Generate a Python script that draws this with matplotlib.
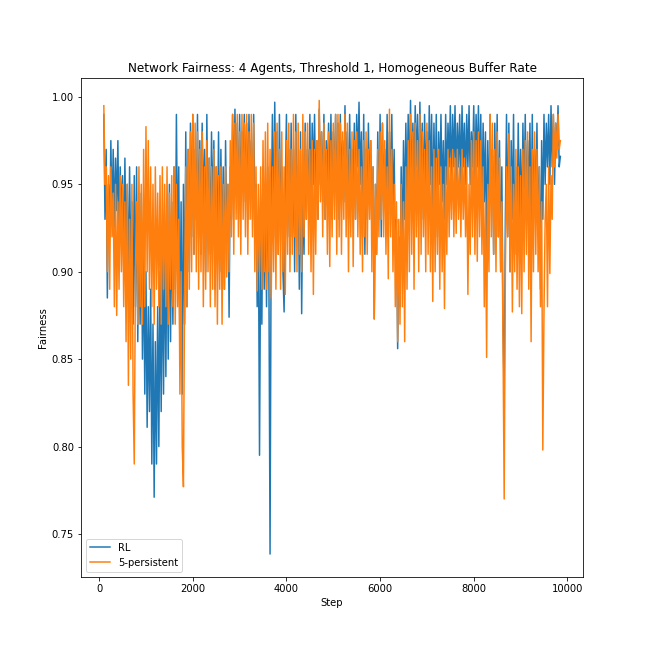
import numpy as np
import matplotlib
matplotlib.use("Agg")
import matplotlib.pyplot as plt

steps = np.arange(100, 9851, 25)

rl = [
    0.99, 0.93, 0.97, 0.885, 0.95, 0.92, 0.975, 0.93, 0.97, 0.925, 0.965, 0.935, 0.975, 0.92, 0.96, 0.93, 0.955, 0.90, 0.965, 0.91,
    0.95, 0.89, 0.96, 0.90, 0.94, 0.87, 0.955, 0.88, 0.96, 0.86, 0.93, 0.87, 0.945, 0.85, 0.91, 0.83, 0.90, 0.811, 0.88, 0.82,
    0.89, 0.79, 0.87, 0.771, 0.86, 0.79, 0.88, 0.80, 0.90, 0.82, 0.91, 0.83, 0.92, 0.84, 0.93, 0.85, 0.95, 0.86, 0.94, 0.87,
    0.96, 0.89, 0.99, 0.91, 0.96, 0.85, 0.94, 0.83, 0.95, 0.87, 0.98, 0.88, 0.97, 0.90, 0.985, 0.92, 0.99, 0.91, 0.97, 0.93,
    0.99, 0.92, 0.975, 0.91, 0.985, 0.93, 0.97, 0.90, 0.99, 0.92, 0.965, 0.91, 0.98, 0.93, 0.975, 0.89, 0.96, 0.91, 0.98, 0.90,
    0.97, 0.91, 0.96, 0.89, 0.975, 0.92, 0.95, 0.874, 0.96, 0.93, 0.99, 0.94, 0.993, 0.95, 0.985, 0.93, 0.99, 0.94, 0.98, 0.95,
    0.99, 0.94, 0.985, 0.93, 0.99, 0.95, 0.975, 0.93, 0.99, 0.94, 0.95, 0.88, 0.93, 0.795, 0.92, 0.87, 0.96, 0.89, 0.95, 0.88,
    0.96, 0.90, 0.7385, 0.93, 0.99, 0.92, 0.997, 0.94, 0.98, 0.91, 0.99, 0.93, 0.96, 0.90, 0.877, 0.95, 0.99, 0.92, 0.97, 0.91,
    0.985, 0.92, 0.97, 0.90, 0.99, 0.93, 0.96, 0.89, 0.98, 0.876, 0.95, 0.91, 0.985, 0.93, 0.97, 0.94, 0.99, 0.93, 0.985, 0.95,
    0.99, 0.94, 0.975, 0.93, 0.993, 0.95, 0.98, 0.94, 0.99, 0.93, 0.975, 0.95, 0.985, 0.94, 0.99, 0.93, 0.98, 0.95, 0.99, 0.94,
    0.985, 0.93, 0.99, 0.95, 0.975, 0.94, 0.995, 0.95, 0.98, 0.93, 0.99, 0.94, 0.97, 0.95, 0.985, 0.93, 0.99, 0.96, 0.997, 0.95,
    0.98, 0.92, 0.99, 0.91, 0.97, 0.93, 0.985, 0.94, 0.975, 0.92, 0.96, 0.873, 0.95, 0.91, 0.98, 0.93, 0.99, 0.92, 0.985, 0.94,
    0.97, 0.93, 0.99, 0.92, 0.98, 0.94, 0.99, 0.93, 0.97, 0.91, 0.93, 0.856, 0.92, 0.88, 0.96, 0.91, 0.975, 0.93, 0.985, 0.94,
    0.99, 0.95, 0.998, 0.94, 0.985, 0.95, 0.995, 0.96, 0.99, 0.94, 0.997, 0.95, 0.985, 0.93, 0.99, 0.95, 0.98, 0.94, 0.995, 0.95,
    0.99, 0.93, 0.985, 0.94, 0.99, 0.92, 0.98, 0.95, 0.99, 0.94, 0.975, 0.93, 0.99, 0.95, 0.985, 0.96, 0.995, 0.95, 0.99, 0.96,
    0.995, 0.95, 0.985, 0.96, 0.99, 0.95, 0.995, 0.96, 0.985, 0.95, 0.99, 0.96, 0.995, 0.95, 0.98, 0.96, 0.995, 0.95, 0.99, 0.96,
    0.995, 0.95, 0.99, 0.93, 0.985, 0.94, 0.98, 0.91, 0.975, 0.93, 0.99, 0.94, 0.97, 0.91, 0.985, 0.93, 0.99, 0.92, 0.975, 0.90,
    0.96, 0.87, 0.829, 0.93, 0.99, 0.92, 0.985, 0.90, 0.975, 0.93, 0.99, 0.91, 0.96, 0.92, 0.985, 0.93, 0.97, 0.92, 0.985, 0.94,
    0.99, 0.93, 0.975, 0.94, 0.985, 0.92, 0.99, 0.93, 0.97, 0.94, 0.985, 0.92, 0.96, 0.89, 0.975, 0.93, 0.99, 0.95, 0.985, 0.96,
    0.99, 0.95, 0.995, 0.96, 0.99, 0.95, 0.985, 0.97, 0.995, 0.96, 0.966,
]

persistent5 = [
    0.995, 0.95, 0.96, 0.90, 0.955, 0.89, 0.96, 0.92, 0.945, 0.88, 0.95, 0.875, 0.94, 0.89, 0.955, 0.90, 0.95, 0.88, 0.94, 0.86,
    0.95, 0.835, 0.93, 0.85, 0.95, 0.83, 0.79, 0.90, 0.94, 0.87, 0.96, 0.88, 0.95, 0.87, 0.97, 0.88, 0.983, 0.90, 0.975, 0.89,
    0.96, 0.88, 0.95, 0.87, 0.96, 0.89, 0.945, 0.88, 0.955, 0.87, 0.96, 0.89, 0.95, 0.88, 0.96, 0.87, 0.945, 0.89, 0.955, 0.88,
    0.96, 0.87, 0.95, 0.88, 0.93, 0.83, 0.90, 0.80, 0.777, 0.89, 0.96, 0.88, 0.97, 0.89, 0.98, 0.90, 0.99, 0.91, 0.985, 0.90,
    0.98, 0.89, 0.97, 0.90, 0.98, 0.88, 0.96, 0.89, 0.975, 0.90, 0.965, 0.88, 0.96, 0.89, 0.97, 0.88, 0.96, 0.87, 0.955, 0.89,
    0.96, 0.87, 0.95, 0.89, 0.96, 0.897, 0.95, 0.90, 0.975, 0.92, 0.99, 0.91, 0.985, 0.93, 0.99, 0.92, 0.98, 0.91, 0.99, 0.93,
    0.985, 0.92, 0.99, 0.91, 0.98, 0.93, 0.99, 0.92, 0.985, 0.90, 0.96, 0.889, 0.95, 0.90, 0.96, 0.89, 0.975, 0.90, 0.98, 0.89,
    0.985, 0.90, 0.97, 0.885, 0.96, 0.90, 0.98, 0.89, 0.985, 0.91, 0.97, 0.89, 0.98, 0.90, 0.96, 0.887, 0.975, 0.91, 0.985, 0.90,
    0.97, 0.91, 0.99, 0.92, 0.98, 0.90, 0.985, 0.91, 0.97, 0.90, 0.99, 0.92, 0.98, 0.93, 0.985, 0.91, 0.97, 0.90, 0.975, 0.887,
    0.97, 0.91, 0.975, 0.93, 0.998, 0.94, 0.98, 0.92, 0.985, 0.93, 0.97, 0.91, 0.98, 0.903, 0.975, 0.92, 0.985, 0.93, 0.99, 0.91,
    0.99, 0.92, 0.985, 0.91, 0.98, 0.93, 0.99, 0.92, 0.985, 0.90, 0.97, 0.92, 0.98, 0.903, 0.975, 0.93, 0.98, 0.92, 0.97, 0.91,
    0.96, 0.90, 0.975, 0.92, 0.98, 0.91, 0.97, 0.93, 0.975, 0.90, 0.96, 0.873, 0.95, 0.91, 0.97, 0.92, 0.98, 0.93, 0.985, 0.92,
    0.975, 0.91, 0.96, 0.896, 0.993, 0.92, 0.97, 0.90, 0.95, 0.88, 0.94, 0.86, 0.93, 0.87, 0.95, 0.88, 0.94, 0.86, 0.96, 0.89,
    0.975, 0.90, 0.99, 0.91, 0.98, 0.89, 0.985, 0.92, 0.975, 0.90, 0.99, 0.91, 0.98, 0.92, 0.97, 0.90, 0.985, 0.91, 0.975, 0.90,
    0.96, 0.883, 0.97, 0.90, 0.965, 0.91, 0.97, 0.89, 0.96, 0.90, 0.95, 0.879, 0.96, 0.91, 0.97, 0.92, 0.965, 0.93, 0.97, 0.92,
    0.965, 0.922, 0.97, 0.93, 0.96, 0.92, 0.97, 0.93, 0.965, 0.92, 0.96, 0.887, 0.95, 0.91, 0.975, 0.92, 0.98, 0.91, 0.975, 0.906,
    0.98, 0.92, 0.975, 0.91, 0.96, 0.88, 0.94, 0.851, 0.95, 0.90, 0.99, 0.92, 0.985, 0.91, 0.97, 0.90, 0.98, 0.92, 0.965, 0.90,
    0.94, 0.86, 0.77, 0.90, 0.96, 0.92, 0.979, 0.90, 0.96, 0.877, 0.95, 0.90, 0.97, 0.89, 0.96, 0.88, 0.955, 0.876, 0.97, 0.90,
    0.975, 0.91, 0.98, 0.89, 0.96, 0.86, 0.97, 0.90, 0.98, 0.91, 0.97, 0.90, 0.96, 0.88, 0.94, 0.798, 0.877, 0.93, 0.95, 0.88,
    0.96, 0.899, 0.955, 0.93, 0.99, 0.96, 0.985, 0.965, 0.99, 0.97, 0.975,
]

fig, ax = plt.subplots(figsize=(9, 9), dpi=72)
ax.plot(steps, rl, label="RL")
ax.plot(steps, persistent5, label="5-persistent")
ax.set_title("Network Fairness: 4 Agents, Threshold 1, Homogeneous Buffer Rate")
ax.set_xlabel("Step")
ax.set_ylabel("Fairness")
ax.legend(loc="lower left")
fig.savefig("out.png", dpi=72)
